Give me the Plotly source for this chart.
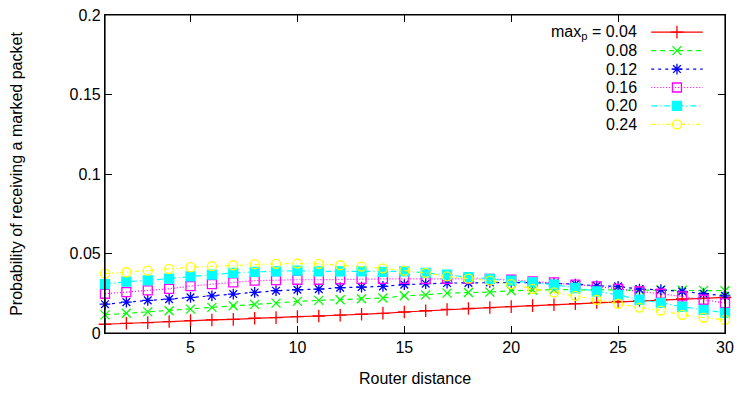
import plotly.graph_objects as go

distance = list(range(1, 31))

p004 = [0.0055, 0.0061, 0.0065, 0.0072, 0.0078, 0.0082, 0.0086, 0.0093, 0.0097, 0.0103,
        0.0107, 0.0112, 0.0118, 0.0124, 0.0132, 0.0140, 0.0148, 0.0154, 0.0160, 0.0166,
        0.0172, 0.0178, 0.0185, 0.0192, 0.0198, 0.0204, 0.0209, 0.0214, 0.0219, 0.0224]
p008 = [0.0114, 0.0124, 0.0133, 0.0140, 0.0150, 0.0161, 0.0171, 0.0180, 0.0188, 0.0199,
        0.0205, 0.0209, 0.0215, 0.0220, 0.0234, 0.0240, 0.0251, 0.0255, 0.0257, 0.0266,
        0.0270, 0.0273, 0.0272, 0.0271, 0.0270, 0.0270, 0.0271, 0.0269, 0.0268, 0.0266]
p012 = [0.0181, 0.0194, 0.0205, 0.0213, 0.0224, 0.0234, 0.0245, 0.0255, 0.0266, 0.0272,
        0.0276, 0.0285, 0.0289, 0.0293, 0.0304, 0.0310, 0.0314, 0.0315, 0.0318, 0.0318,
        0.0316, 0.0312, 0.0308, 0.0297, 0.0293, 0.0276, 0.0272, 0.0261, 0.0247, 0.0234]
p016 = [0.0247, 0.0257, 0.0268, 0.0278, 0.0295, 0.0308, 0.0318, 0.0329, 0.0333, 0.0335,
        0.0335, 0.0338, 0.0340, 0.0340, 0.0340, 0.0340, 0.0340, 0.0342, 0.0340, 0.0335,
        0.0325, 0.0318, 0.0304, 0.0293, 0.0277, 0.0261, 0.0247, 0.0230, 0.0209, 0.0188]
p020 = [0.0308, 0.0323, 0.0331, 0.0342, 0.0356, 0.0367, 0.0378, 0.0384, 0.0388, 0.0392,
        0.0388, 0.0388, 0.0388, 0.0384, 0.0388, 0.0378, 0.0367, 0.0352, 0.0340, 0.0329,
        0.0318, 0.0304, 0.0283, 0.0261, 0.0240, 0.0209, 0.0190, 0.0165, 0.0146, 0.0127]
p024 = [0.0373, 0.0382, 0.0392, 0.0403, 0.0414, 0.0420, 0.0426, 0.0433, 0.0435, 0.0437,
        0.0435, 0.0426, 0.0418, 0.0407, 0.0392, 0.0378, 0.0356, 0.0342, 0.0329, 0.0308,
        0.0278, 0.0255, 0.0234, 0.0209, 0.0184, 0.0160, 0.0141, 0.0114, 0.0097, 0.0082]

series_values = [p004, p008, p012, p016, p020, p024]
series_labels = ["max<sub>p</sub> = 0.04", "0.08", "0.12", "0.16", "0.20", "0.24"]
colors = ["#ff0000", "#00ff00", "#0000ff", "#ff00ff", "#00ffff", "#ffff00"]
dashes = ["solid", "5px,4px", "3px,4px", "1px,2px", "6px,3px,1px,3px", "4px,3px,1px,3px,1px,3px"]
symbols = ["cross-thin-open", "x-thin-open", "asterisk-open", "square-open", "square", "circle-open"]
sizes = [9, 9, 9, 9, 9, 9]

y_ticks = [0, 0.05, 0.1, 0.15, 0.2]
y_ticktext = ["0", "0.05", "0.1", "0.15", "0.2"]
x_ticks = [5, 10, 15, 20, 25, 30]
x_range = [1, 30]
y_range = [0, 0.2]

FONT = "Liberation Sans, Arial, sans-serif"
FS = 16

fig = go.Figure()

for vals, lab, col, dsh, sym, sz in zip(series_values, series_labels, colors, dashes, symbols, sizes):
    fig.add_trace(go.Scatter(
        x=distance, y=vals, mode="lines+markers", name=lab, showlegend=False,
        line=dict(color=col, width=1.2, dash=dsh),
        marker=dict(symbol=sym, size=sz, color=col, line=dict(color=col, width=1.3)),
        cliponaxis=False,
    ))

# frame of the plot area, drawn on the unit overlay axes
fig.add_trace(go.Scatter(
    x=[0, 1, 1, 0, 0], y=[0, 0, 1, 1, 0], xaxis="x2", yaxis="y2", mode="lines",
    line=dict(color="black", width=1.2), showlegend=False, hoverinfo="skip", cliponaxis=False,
))

# custom legend (text left, sample right) on an overlay axis in [0,1]
legend_top = 0.946
legend_step = 0.058
for i, (lab, col, dsh, sym, sz) in enumerate(zip(series_labels, colors, dashes, symbols, sizes)):
    yy = legend_top - i * legend_step
    fig.add_trace(go.Scatter(
        x=[0.881, 0.964], y=[yy, yy], xaxis="x2", yaxis="y2", mode="lines",
        line=dict(color=col, width=1.2, dash=dsh), showlegend=False, hoverinfo="skip",
    ))
    fig.add_trace(go.Scatter(
        x=[0.9225], y=[yy], xaxis="x2", yaxis="y2", mode="markers",
        marker=dict(symbol=sym, size=sz, color=col, line=dict(color=col, width=1.3)),
        showlegend=False, hoverinfo="skip",
    ))
    fig.add_annotation(
        x=0.862, y=yy, xref="x2", yref="y2", text=lab, showarrow=False,
        xanchor="right", yanchor="middle", font=dict(family=FONT, size=FS, color="black"),
    )

# empty traces so the mirrored (top / right) axes get drawn
fig.add_trace(go.Scatter(x=[], y=[], xaxis="x3", yaxis="y3", showlegend=False, hoverinfo="skip"))

fig.update_layout(
    width=739, height=394,
    margin=dict(l=105, r=14, t=15, b=61, autoexpand=False),
    paper_bgcolor="white", plot_bgcolor="white",
    font=dict(family=FONT, size=FS, color="black"),
    xaxis=dict(
        range=x_range, tickvals=x_ticks, ticks="inside", ticklen=7, tickcolor="black",
        showline=True, linecolor="black", linewidth=1.2, mirror="ticks",
        showgrid=False, zeroline=False, automargin=False,
        title=dict(text="Router distance", font=dict(size=FS), standoff=17),
    ),
    yaxis=dict(
        range=y_range, tickvals=y_ticks, ticktext=y_ticktext, ticks="inside", ticklen=7,
        tickcolor="black", showline=True, linecolor="black", linewidth=1.2, mirror="ticks",
        showgrid=False, zeroline=False, automargin=False,
        title=dict(text="Probability of receiving a marked packet", font=dict(size=FS), standoff=42),
    ),
    xaxis2=dict(range=[0, 1], overlaying="x", visible=False, fixedrange=True),
    yaxis2=dict(range=[0, 1], overlaying="y", visible=False, fixedrange=True),
    xaxis3=dict(range=x_range, tickvals=x_ticks, overlaying="x", side="top", ticks="inside",
                ticklen=7, tickcolor="black", showticklabels=False, showgrid=False,
                zeroline=False, showline=True, linecolor="black", linewidth=1.2, automargin=False),
    yaxis3=dict(range=y_range, tickvals=y_ticks, overlaying="y", side="right", ticks="inside",
                ticklen=7, tickcolor="black", showticklabels=False, showgrid=False,
                zeroline=False, showline=True, linecolor="black", linewidth=1.2, automargin=False),
)

fig.write_html(
    "out.html",
    config={"displayModeBar": False},
    post_script="document.body.style.margin='0';document.body.style.overflow='hidden';",
)
